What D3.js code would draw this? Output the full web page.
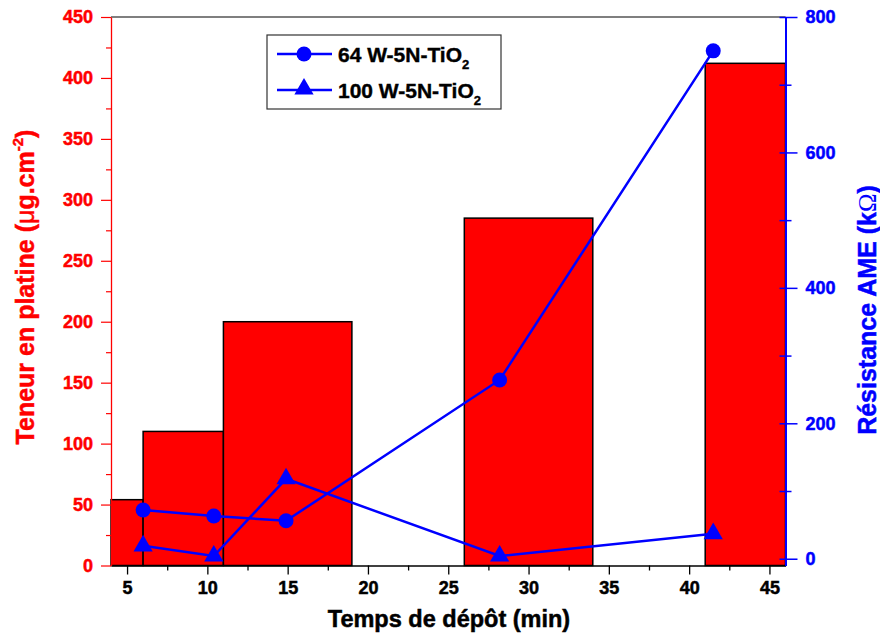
<!DOCTYPE html>
<html><head><meta charset="utf-8">
<script src="https://cdn.jsdelivr.net/npm/d3@7"></script>
<style>body{margin:0;background:#fff}svg text{font-family:"Liberation Sans",Arial,sans-serif;font-weight:bold}</style>
</head><body>
<svg id="c" width="880" height="635"></svg>
<script>
// Bars: platinum content (left axis), drawn as intervals along deposition time
const barStart = [4, 6, 11, 26, 41];
const barEnd   = [6, 11, 19, 34, 46];
const barValue = [54, 110, 200, 285, 412];
// Lines: resistance AME (right axis)
const timeX = [6, 10.4, 14.9, 28.2, 41.5];
const res64  = [72, 63, 56, 264, 750];
const res100 = [19, 4, 118, 4, 37];
const xTicks = [5, 10, 15, 20, 25, 30, 35, 40, 45];
const yLeftTicks = [0, 50, 100, 150, 200, 250, 300, 350, 400, 450];
const yRightTicks = [0, 200, 400, 600, 800];
const seriesNames = ["64 W-5N-TiO", "100 W-5N-TiO"];

const L = 111, R = 785.5, T = 17, B = 565.5;
const svg = d3.select("#c");
const x = d3.scaleLinear().domain([4, 46]).range([L, R]);
const yL = d3.scaleLinear().domain([0, 450]).range([B, T]);
const yR = d3.scaleLinear().domain([-10, 800]).range([B, T]);
const RED = "#ff0000", BLUE = "#0000ff";

function styleText(g, color) {
  g.selectAll("text").attr("font-size", null).attr("font-family", null)
    .style("font-size", "18px").style("font-weight", "bold")
    .style("font-family", "'Liberation Sans', Arial, sans-serif")
    .attr("fill", color).attr("stroke", color).attr("stroke-width", 0.5);
}

// bars
svg.append("g").selectAll("rect").data(barValue).join("rect")
  .attr("x", (d, i) => x(barStart[i]))
  .attr("width", (d, i) => x(barEnd[i]) - x(barStart[i]))
  .attr("y", d => yL(d))
  .attr("height", d => B - yL(d))
  .attr("fill", RED).attr("stroke", "#000").attr("stroke-width", 1.5);

// top frame
svg.append("line").attr("x1", L).attr("x2", R).attr("y1", T).attr("y2", T).attr("stroke", "#000").attr("stroke-width", 1.2);

// bottom axis
const gx = svg.append("g").attr("transform", `translate(0,${B})`);
gx.call(d3.axisBottom(x).tickValues(d3.range(7.5, 46, 5)).tickSize(5).tickFormat(""));
gx.select(".domain").remove();
gx.selectAll("line").attr("stroke", "#000").attr("stroke-width", 1.3);
const gx2 = svg.append("g").attr("transform", `translate(0,${B})`);
gx2.call(d3.axisBottom(x).tickValues(xTicks).tickSize(9).tickSizeOuter(0).tickPadding(7));
gx2.select(".domain").attr("stroke", "#000").attr("stroke-width", 1.5);
gx2.selectAll(".tick line").attr("stroke", "#000").attr("stroke-width", 1.3);
styleText(gx2, "#000");

// left axis
const gl = svg.append("g").attr("transform", `translate(${L},0)`);
gl.call(d3.axisLeft(yL).tickValues(d3.range(25, 450, 50)).tickSize(5).tickFormat(""));
gl.select(".domain").remove();
gl.selectAll("line").attr("stroke", RED).attr("stroke-width", 1.2);
const gl2 = svg.append("g").attr("transform", `translate(${L},0)`);
gl2.call(d3.axisLeft(yL).tickValues(yLeftTicks).tickSize(10).tickSizeOuter(0).tickPadding(8));
gl2.select(".domain").attr("stroke", RED).attr("stroke-width", 1.3);
gl2.selectAll(".tick line").attr("stroke", RED).attr("stroke-width", 1.2);
styleText(gl2, RED);

// right axis
const gr = svg.append("g").attr("transform", `translate(${R},0)`);
gr.call(d3.axisRight(yR).tickValues([100, 300, 500, 700]).tickSize(6).tickFormat(""));
gr.select(".domain").remove();
gr.selectAll(".tick line").attr("x1", -6).attr("stroke", BLUE).attr("stroke-width", 1.5);
const gr2 = svg.append("g").attr("transform", `translate(${R},0)`);
gr2.call(d3.axisRight(yR).tickValues(yRightTicks).tickSize(12).tickSizeOuter(0).tickPadding(8));
gr2.select(".domain").attr("stroke", BLUE).attr("stroke-width", 2);
gr2.selectAll(".tick line").attr("x1", -6).attr("stroke", BLUE).attr("stroke-width", 1.5);
styleText(gr2, BLUE);

// lines
const line = d3.line().x((d, i) => x(timeX[i])).y(d => yR(d));
[res64, res100].forEach(s => {
  svg.append("path").attr("d", line(s)).attr("fill", "none").attr("stroke", BLUE).attr("stroke-width", 2.5);
});
svg.append("g").selectAll("circle").data(res64).join("circle")
  .attr("cx", (d, i) => x(timeX[i])).attr("cy", d => yR(d)).attr("r", 7.5).attr("fill", BLUE);
const tri = d3.symbol().type(d3.symbolTriangle).size(160);
svg.append("g").selectAll("path").data(res100).join("path")
  .attr("d", tri).attr("transform", (d, i) => `translate(${x(timeX[i])},${yR(d)})`).attr("fill", BLUE);

// legend
const lg = svg.append("g");
lg.append("rect").attr("x", 267).attr("y", 35).attr("width", 234).attr("height", 74).attr("fill", "#fff").attr("stroke", "#333").attr("stroke-width", 1.2);
seriesNames.forEach((nm, i) => {
  const yy = 54 + i * 36;
  lg.append("line").attr("x1", 277).attr("x2", 332).attr("y1", yy).attr("y2", yy).attr("stroke", BLUE).attr("stroke-width", 2.5);
  if (i === 0) lg.append("circle").attr("cx", 304).attr("cy", yy).attr("r", 7.5).attr("fill", BLUE);
  else lg.append("path").attr("d", tri).attr("transform", `translate(304,${yy - 1})`).attr("fill", BLUE);
  const t = lg.append("text").attr("x", 338).attr("y", yy + 7.5).style("font-size", "21px").attr("fill", "#000").attr("stroke", "#000").attr("stroke-width", 0.4);
  t.append("tspan").text(nm);
  t.append("tspan").style("font-size", "13px").attr("dy", 7).text("2");
});

// axis titles
const tl = svg.append("text").attr("transform", `translate(34,287) rotate(-90)`).attr("text-anchor", "middle").style("font-size", "25px").attr("fill", RED).attr("stroke", RED).attr("stroke-width", 0.5);
tl.append("tspan").text("Teneur en platine (");
tl.append("tspan").style("font-weight", "normal").text("μ");
tl.append("tspan").text("g.cm");
tl.append("tspan").style("font-size", "15px").attr("dy", -11).text("-2");
tl.append("tspan").attr("dy", 11).text(")");

const tr = svg.append("text").attr("transform", `translate(876,310) rotate(-90)`).attr("text-anchor", "middle").style("font-size", "25px").attr("fill", BLUE).attr("stroke", BLUE).attr("stroke-width", 0.5);
tr.append("tspan").text("Résistance AME (k");
tr.append("tspan").style("font-weight", "normal").attr("stroke-width", 0).style("font-family", "'Liberation Serif', serif").text("Ω");
tr.append("tspan").text(")");

svg.append("text").attr("x", 449).attr("y", 627).attr("text-anchor", "middle").style("font-size", "23.5px").attr("fill", "#000").attr("stroke", "#000").attr("stroke-width", 0.5).text("Temps de dépôt (min)");
</script>
</body></html>
